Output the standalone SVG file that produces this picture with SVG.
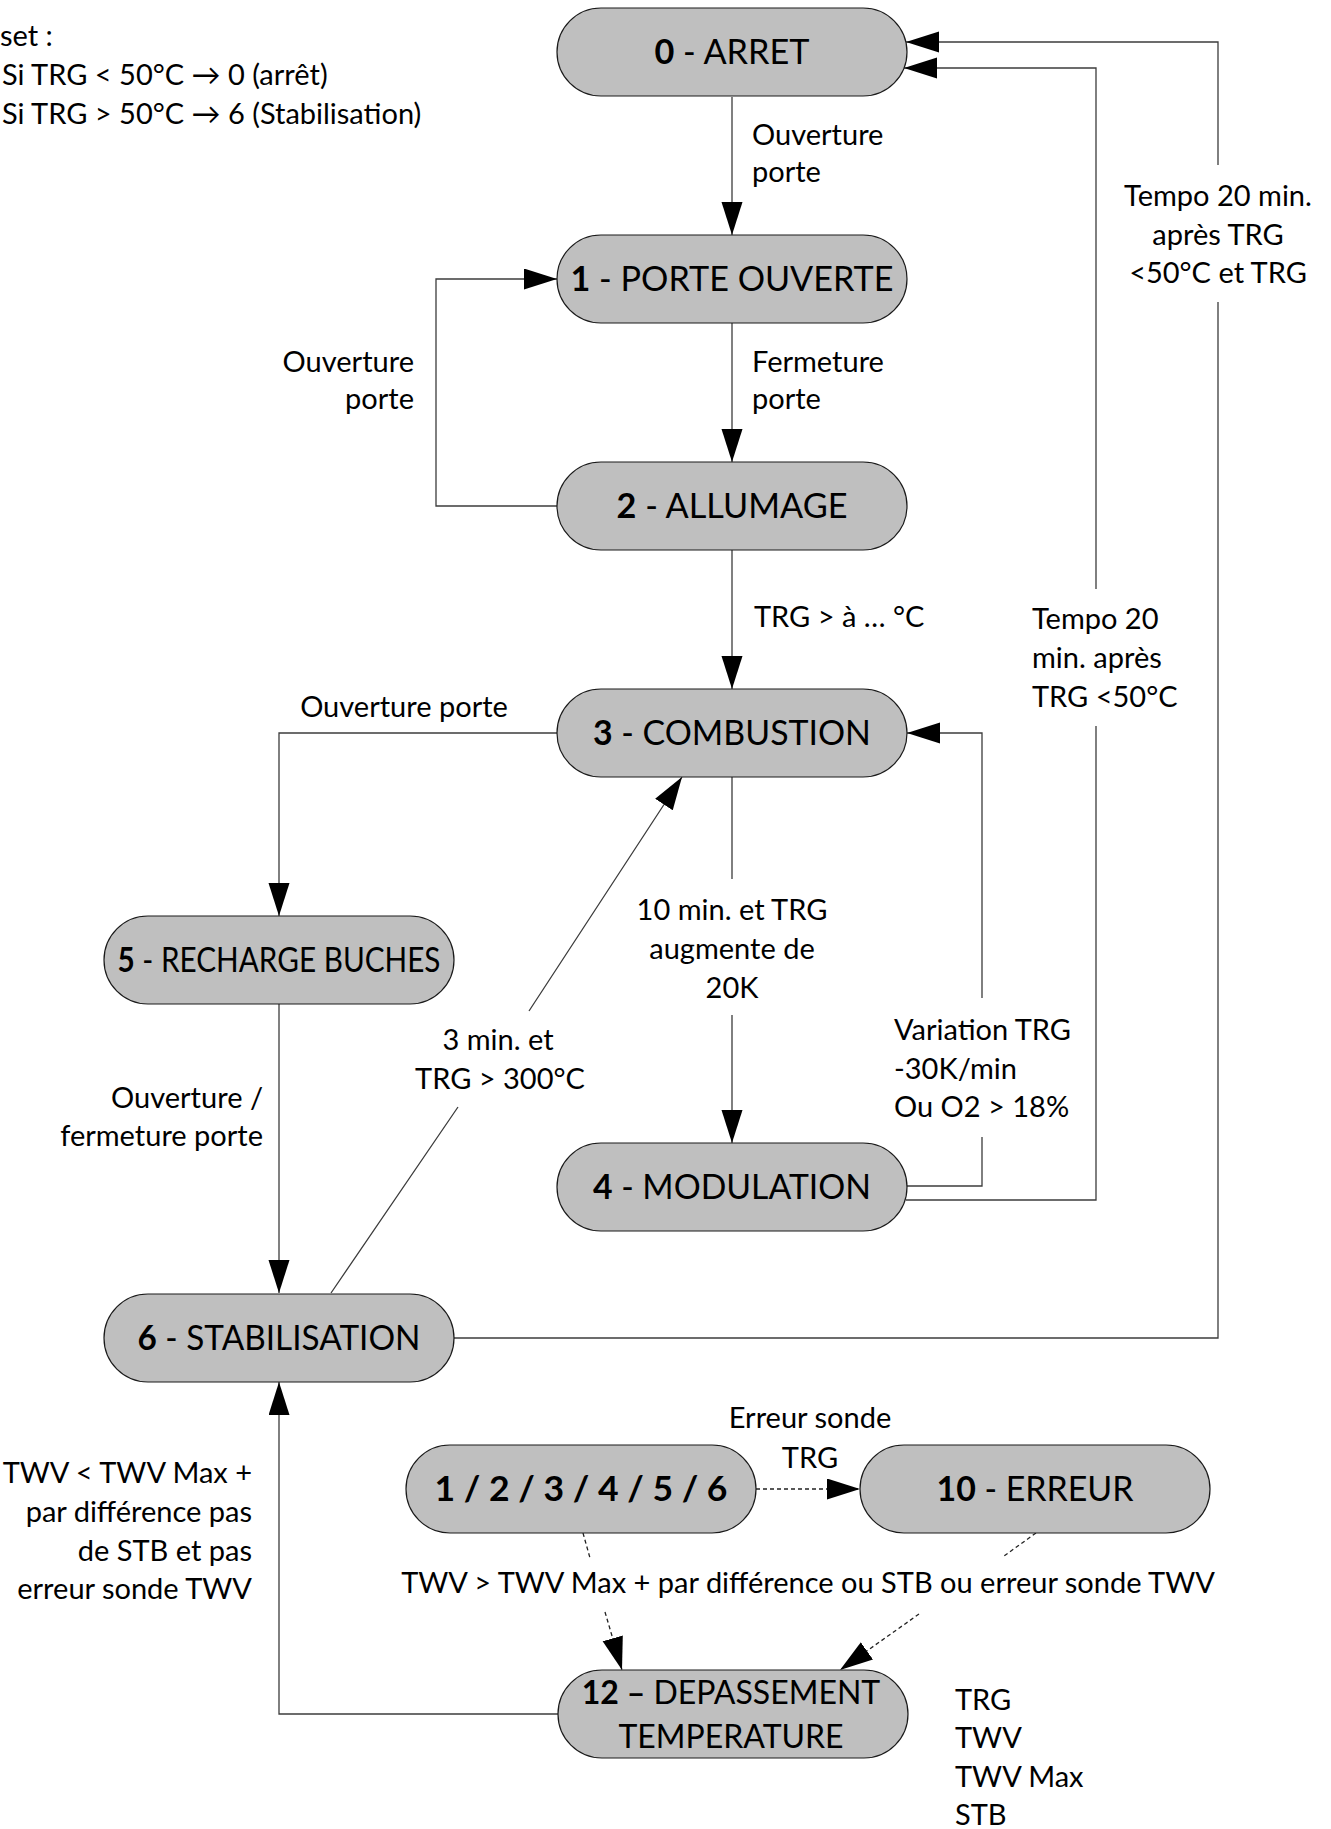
<svg xmlns="http://www.w3.org/2000/svg" width="1331" height="1829" viewBox="0 0 1331 1829">
  <defs>
    <marker id="arrow" markerUnits="userSpaceOnUse" markerWidth="34" markerHeight="22" refX="33" refY="10.5" orient="auto">
      <path d="M0,0 L33,10.5 L0,21 Z" fill="#000"/>
    </marker>
    <style>
      text { font-family: Lato, "Liberation Sans", sans-serif; fill: #000; }
      .node rect { fill: #bfbfbf; stroke: #1a1a1a; stroke-width: 1.2; }
      .node text { font-size: 34px; text-anchor: middle; }
      .node .two { font-size: 32px; }
      .b { font-weight: bold; }
      .lbl { font-size: 29px; }
      .mid { text-anchor: middle; }
      .end { text-anchor: end; }
      .conn path { fill: none; stroke: #3c3c3c; stroke-width: 1.3; }
      .conn .dash { stroke: #222; stroke-dasharray: 4 3; }
      .conn .arr { marker-end: url(#arrow); }
    </style>
  </defs>
  <rect width="1331" height="1829" fill="#fff"/>

  <!-- connectors -->
  <g id="connectors" class="conn">
    <path class="arr" d="M732,97 V235"/>
    <path class="arr" d="M732,323 V462"/>
    <path class="arr" d="M557,506 H436 V279 H557"/>
    <path class="arr" d="M732,550 V689"/>
    <path class="arr" d="M557,733 H279 V916"/>
    <path class="arr" d="M732,777 V879 M732,1015 V1143"/>
    <path class="arr" d="M907,1186 H982 V1137 M982,998 V733 H907"/>
    <path class="arr" d="M906,1200 H1096 V726 M1096,589 V68 H904"/>
    <path class="arr" d="M454,1338 H1218 V302 M1218,165 V42 H906"/>
    <path class="arr" d="M331,1293 L458,1107 M529,1011 L682,777"/>
    <path class="arr" d="M279,1004 V1293"/>
    <path class="arr" d="M558,1714 H279 V1382"/>
    <path class="dash arr" d="M756,1489 H860"/>
    <path class="dash arr" d="M583,1533 L590,1558 M605,1612 L622,1670"/>
    <path class="dash arr" d="M1036,1533 L1004,1556 M919,1614 L840,1670"/>
  </g>

  <!-- states -->
  <g id="node-0" class="node">
    <rect x="557" y="8" width="350" height="88" rx="44"/>
    <text x="732" y="64" textLength="155" lengthAdjust="spacingAndGlyphs"><tspan class="b">0</tspan> - ARRET</text>
  </g>
  <g id="node-1" class="node">
    <rect x="557" y="235" width="350" height="88" rx="44"/>
    <text x="732" y="291" textLength="323" lengthAdjust="spacingAndGlyphs"><tspan class="b">1</tspan> - PORTE OUVERTE</text>
  </g>
  <g id="node-2" class="node">
    <rect x="557" y="462" width="350" height="88" rx="44"/>
    <text x="732" y="518" textLength="231" lengthAdjust="spacingAndGlyphs"><tspan class="b">2</tspan> - ALLUMAGE</text>
  </g>
  <g id="node-3" class="node">
    <rect x="557" y="689" width="350" height="88" rx="44"/>
    <text x="732" y="745" textLength="278" lengthAdjust="spacingAndGlyphs"><tspan class="b">3</tspan> - COMBUSTION</text>
  </g>
  <g id="node-4" class="node">
    <rect x="557" y="1143" width="350" height="88" rx="44"/>
    <text x="732" y="1199" textLength="278" lengthAdjust="spacingAndGlyphs"><tspan class="b">4</tspan> - MODULATION</text>
  </g>
  <g id="node-5" class="node">
    <rect x="104" y="916" width="350" height="88" rx="44"/>
    <text x="279" y="972" textLength="323" lengthAdjust="spacingAndGlyphs"><tspan class="b">5</tspan> - RECHARGE BUCHES</text>
  </g>
  <g id="node-6" class="node">
    <rect x="104" y="1294" width="350" height="88" rx="44"/>
    <text x="279" y="1350" textLength="283" lengthAdjust="spacingAndGlyphs"><tspan class="b">6</tspan> - STABILISATION</text>
  </g>
  <g id="node-any" class="node">
    <rect x="406" y="1445" width="350" height="88" rx="44"/>
    <text x="581" y="1501" class="b" textLength="293" lengthAdjust="spacingAndGlyphs">1 / 2 / 3 / 4 / 5 / 6</text>
  </g>
  <g id="node-10" class="node">
    <rect x="860" y="1445" width="350" height="88" rx="44"/>
    <text x="1035" y="1501" textLength="197" lengthAdjust="spacingAndGlyphs"><tspan class="b">10</tspan> - ERREUR</text>
  </g>
  <g id="node-12" class="node">
    <rect x="558" y="1670" width="350" height="88" rx="44"/>
    <text class="two" x="731" y="1704"><tspan class="b">12 –</tspan> DEPASSEMENT</text>
    <text class="two" x="731" y="1748">TEMPERATURE</text>
  </g>

  <!-- transition labels -->
  <g id="labels" class="lbl">
    <text x="752" y="145">Ouverture</text>
    <text x="752" y="182">porte</text>

    <text x="752" y="372">Fermeture</text>
    <text x="752" y="409">porte</text>

    <text class="end" x="414" y="372">Ouverture</text>
    <text class="end" x="414" y="409">porte</text>

    <text x="754" y="627">TRG &gt; à … °C</text>

    <text class="mid" x="404" y="717">Ouverture porte</text>

    <text class="mid" x="732" y="920">10 min. et TRG</text>
    <text class="mid" x="732" y="959">augmente de</text>
    <text class="mid" x="732" y="998">20K</text>

    <text x="894" y="1040">Variation TRG</text>
    <text x="894" y="1079">-30K/min</text>
    <text x="894" y="1117">Ou O2 &gt; 18%</text>

    <text x="1032" y="629">Tempo 20</text>
    <text x="1032" y="668">min. après</text>
    <text x="1032" y="707">TRG &lt;50°C</text>

    <text class="mid" x="1218" y="206">Tempo 20 min.</text>
    <text class="mid" x="1218" y="245">après TRG</text>
    <text class="mid" x="1218" y="283">&lt;50°C et TRG</text>

    <text class="mid" x="498" y="1050">3 min. et</text>
    <text class="mid" x="500" y="1089">TRG &gt; 300°C</text>

    <text class="end" x="263" y="1108">Ouverture /</text>
    <text class="end" x="263" y="1146">fermeture porte</text>

    <text class="end" x="252" y="1483">TWV &lt; TWV Max +</text>
    <text class="end" x="252" y="1522">par différence pas</text>
    <text class="end" x="252" y="1561">de STB et pas</text>
    <text class="end" x="252" y="1599">erreur sonde TWV</text>

    <text class="mid" x="810" y="1428">Erreur sonde</text>
    <text class="mid" x="810" y="1468">TRG</text>

    <text class="mid" x="808" y="1593">TWV &gt; TWV Max + par différence ou STB ou erreur sonde TWV</text>
  </g>

  <!-- variable list -->
  <g id="legend" class="lbl">
    <text x="955" y="1710">TRG</text>
    <text x="955" y="1748">TWV</text>
    <text x="955" y="1787">TWV Max</text>
    <text x="955" y="1825">STB</text>
  </g>

  <!-- reset note -->
  <g id="reset-note" class="lbl">
    <text x="0" y="46">set :</text>
    <text x="2" y="85">Si TRG &lt; 50°C → 0 (arrêt)</text>
    <text x="2" y="124">Si TRG &gt; 50°C → 6 (Stabilisation)</text>
  </g>
</svg>
